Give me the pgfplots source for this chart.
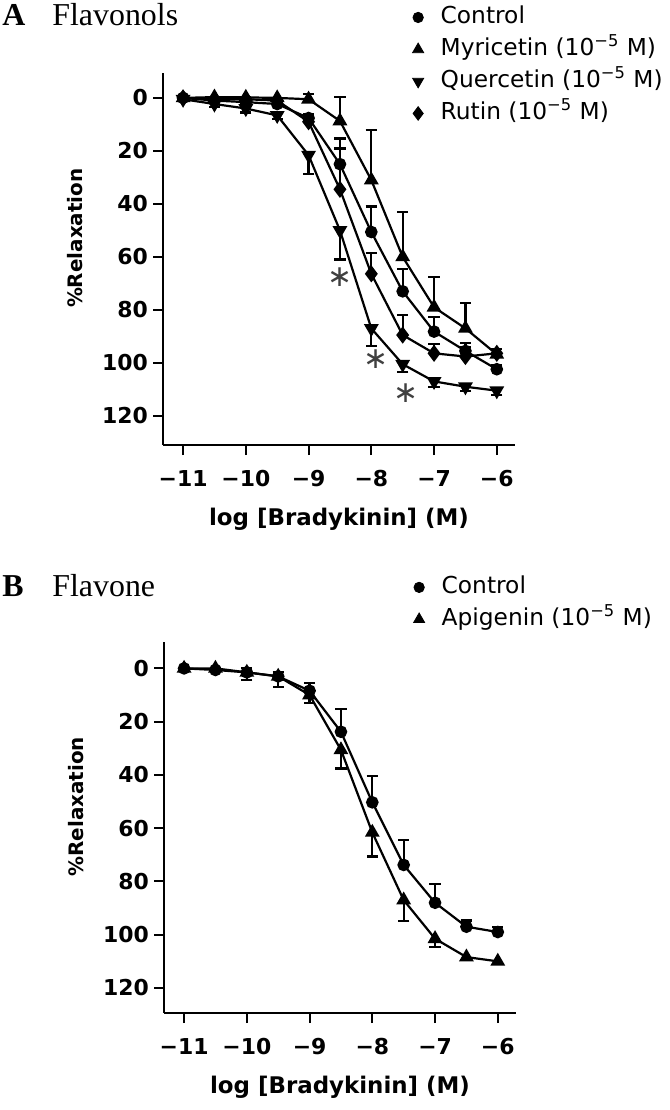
\documentclass[border=0pt]{standalone}
\usepackage{fontspec}
\setmainfont{DejaVu Sans}
\newfontfamily\titlefont{Liberation Serif}
\usepackage{pgfplots}
\pgfplotsset{compat=1.18}

\pgfplotsset{
  panel/.style={
    scale only axis, width=176bp,
    xmin=-11.32, xmax=-5.71,
    y dir=reverse,
    axis x line*=bottom, axis y line*=left,
    xtick={-11,-10,-9,-8,-7,-6},
    xticklabels={−11,−10,−9,−8,−7,−6},
    ytick={0,20,...,120},
    tick align=outside, major tick length=5bp,
    minor tick num=0,
    tick style={line width=1bp, black},
    axis line style={line width=1bp},
    ticklabel style={font=\bfseries\fontsize{11}{13}\selectfont},
    xticklabel style={yshift=-4bp},
    yticklabel style={xshift=1bp},
    /pgf/number format/assume math mode=true,
    xlabel={log [Bradykinin] (M)},
    ylabel={\%Relaxation},
    xlabel style={font=\bfseries\fontsize{11.5}{13}\selectfont,
      at={(axis description cs:0.5,-0.2)}, anchor=center},
    ylabel style={font=\bfseries\fontsize{10}{12}\selectfont,
      at={(axis description cs:-0.25,0.556)}, anchor=center},
    legend cell align=left,
    legend style={draw=none, fill=none, anchor=north west, inner sep=0pt,
      font=\fontsize{11.7}{14}\selectfont, column sep=7.5bp,
      nodes={inner sep=1bp, text height=9bp, text depth=3bp}, row sep=2bp},
  },
  ser/.style={black, line width=1.1bp, forget plot,
    error bars/y dir=#1, error bars/y explicit,
    error bars/error bar style={line width=1.1bp},
    error bars/error mark options={rotate=90, line width=1.1bp, mark size=2.8bp}},
  ctl/.style={mark=*, mark size=2.6bp},
  up/.style={mark=triangle*, mark size=3.2bp},
  dn/.style={mark=triangle*, mark size=3.2bp, mark options={rotate=180}},
  dia/.style={mark=diamond*, mark size=3.4bp},
}
\tikzset{sig/.style={font=\fontsize{15}{15}\selectfont, text=black!75, inner sep=0pt}}

\begin{document}
\begin{tikzpicture}
\useasboundingbox (-81.5bp,-332.5bp) rectangle (253.5bp,222.5bp);

% ---- A: flavonols
\begin{axis}[panel, height=186bp, ymin=-9.4, ymax=131,
  legend style={at={(axis description cs:0.708,1.188)}}]
\addplot[ser=minus, ctl] coordinates {
  (-11,0) +- (0,0) (-10.5,1) +- (0,0.5) (-10,1.6) +- (0,1) (-9.5,2.3) +- (0,1)
  (-9,7.6) +- (0,1.5) (-8.5,25) +- (0,9.7) (-8,50.6) +- (0,9.6)
  (-7.5,73) +- (0,8.5) (-7,88.2) +- (0,5.4) (-6.5,95.5) +- (0,3)
  (-6,102.4) +- (0,1.5)};
\addplot[ser=minus, up] coordinates {
  (-11,0) +- (0,0) (-10.5,-0.3) +- (0,0) (-10,-0.2) +- (0,0) (-9.5,0) +- (0,0)
  (-9,0.5) +- (0,2) (-8.5,8.7) +- (0,9) (-8,31) +- (0,19)
  (-7.5,60) +- (0,17) (-7,79) +- (0,11.5) (-6.5,87) +- (0,9.5)
  (-6,96.8) +- (0,2)};
\addplot[ser=plus, dn] coordinates {
  (-11,0.5) +- (0,0) (-10.5,2.3) +- (0,1) (-10,4) +- (0,1.5) (-9.5,6.6) +- (0,1.5)
  (-9,21.6) +- (0,7) (-8.5,50) +- (0,11) (-8,87) +- (0,6.5)
  (-7.5,100.5) +- (0,3) (-7,107) +- (0,2) (-6.5,109) +- (0,1.5)
  (-6,110.5) +- (0,1.5)};
\addplot[ser=minus, dia] coordinates {
  (-11,0) +- (0,0) (-10.5,0.5) +- (0,0) (-10,0.5) +- (0,0) (-9.5,1) +- (0,0)
  (-9,9) +- (0,1.5) (-8.5,34.5) +- (0,15.4) (-8,66.4) +- (0,8)
  (-7.5,89.5) +- (0,7.5) (-7,96.4) +- (0,3.5) (-6.5,97.6) +- (0,3.5)
  (-6,96.4) +- (0,1.5)};
\addlegendimage{only marks, black, ctl}
\addlegendentry{Control}
\addlegendimage{only marks, black, up}
\addlegendentry{Myricetin (10\textsuperscript{−5} M)}
\addlegendimage{only marks, black, dn}
\addlegendentry{Quercetin (10\textsuperscript{−5} M)}
\addlegendimage{only marks, black, dia}
\addlegendentry{Rutin (10\textsuperscript{−5} M)}
\node[sig] at (axis cs:-8.5,67.5) {∗};
\node[sig] at (axis cs:-7.92,98.5) {∗};
\node[sig] at (axis cs:-7.45,111.5) {∗};
\end{axis}
\node[anchor=base west, inner sep=0pt] at (-80.5bp,209.5bp)
  {\titlefont\bfseries\fontsize{16}{18}\selectfont A};
\node[anchor=base west, inner sep=0pt] at (-55.5bp,209.5bp)
  {\titlefont\fontsize{16}{18}\selectfont Flavonols};

% ---- B: flavone
\begin{axis}[panel, at={(0.5bp,-284bp)}, height=185.5bp, ymin=-9.9, ymax=129.4,
  legend style={at={(axis description cs:0.708,1.186)}}]
\addplot[ser=minus, ctl] coordinates {
  (-11,0) +- (0,0) (-10.5,0.6) +- (0,0.5) (-10,1.5) +- (0,1.5) (-9.5,3) +- (0,1.5)
  (-9,8.4) +- (0,3) (-8.5,23.8) +- (0,8.5) (-8,50.3) +- (0,10)
  (-7.5,73.8) +- (0,9.4) (-7,88) +- (0,7) (-6.5,97) +- (0,2.3)
  (-6,99) +- (0,2)};
\addplot[ser=plus, up] coordinates {
  (-11,0) +- (0,0) (-10.5,0) +- (0,0) (-10,1.5) +- (0,3) (-9.5,3) +- (0,4)
  (-9,10) +- (0,3) (-8.5,30.6) +- (0,7) (-8,61.6) +- (0,9)
  (-7.5,87) +- (0,7.8) (-7,101.5) +- (0,3) (-6.5,108.4) +- (0,1)
  (-6,110) +- (0,1)};
\addlegendimage{only marks, black, ctl}
\addlegendentry{Control}
\addlegendimage{only marks, black, up}
\addlegendentry{Apigenin (10\textsuperscript{−5} M)}
\end{axis}
\node[anchor=base west, inner sep=0pt] at (-80.5bp,-75.5bp)
  {\titlefont\bfseries\fontsize{16}{18}\selectfont B};
\node[anchor=base west, inner sep=0pt] at (-55.5bp,-75.5bp)
  {\titlefont\fontsize{16}{18}\selectfont Flavone};
\end{tikzpicture}
\end{document}
